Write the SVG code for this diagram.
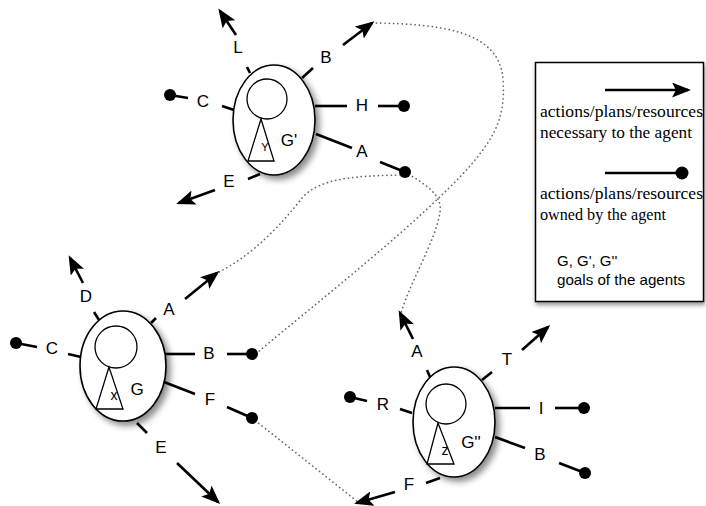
<svg xmlns="http://www.w3.org/2000/svg" width="706" height="506" viewBox="0 0 706 506">
  <style>
    .lbl { font-family: "Liberation Sans", Arial, sans-serif; font-size: 17px; fill: #000; text-anchor: middle; }
    .tiny { font-family: "Liberation Sans", Arial, sans-serif; fill: #000; text-anchor: middle; }
    .body { fill: #fff; stroke: #000; stroke-width: 1.6; }
    .head { fill: none; stroke: #000; stroke-width: 1.3; }
    .spoke { stroke: #000; stroke-width: 2.6; fill: none; }
    .need { stroke: #000; stroke-width: 2.6; fill: none; marker-end: url(#arrow); }
    .dot { fill: #000; }
    .link { fill: none; stroke: #666; stroke-width: 1.7; stroke-dasharray: 0.1 4.2; stroke-linecap: round; }
    .serif { font-family: "Liberation Serif", "Times New Roman", serif; font-size: 17px; fill: #000; }
    .sans { font-family: "Liberation Sans", Arial, sans-serif; font-size: 15px; fill: #000; }
  </style>
  <defs>
    <marker id="arrow" markerUnits="userSpaceOnUse" markerWidth="20" markerHeight="15" refX="16" refY="7.5" orient="auto">
      <path d="M0,0 L19,7.5 L0,15 L4,7.5 z" fill="#000"/>
    </marker>
    <filter id="shadow" x="-30%" y="-30%" width="170%" height="170%">
      <feDropShadow dx="4" dy="4" stdDeviation="3" flood-color="#000" flood-opacity="0.45"/>
    </filter>
    <filter id="boxshadow" x="-10%" y="-10%" width="120%" height="120%">
      <feDropShadow dx="1" dy="3" stdDeviation="2" flood-color="#000" flood-opacity="0.4"/>
    </filter>
  </defs>

  <rect width="706" height="506" fill="#fff"/>

  <!-- dotted dependency links between agents -->
  <g id="connectors">
    <path class="link" d="M372,23 C440,24 500,30 503,80 C506,120 492,140 470,166 C420,222 320,300 258,352"/>
    <path class="link" d="M405,172 C425,184 443,195 440,212 C436,240 410,282 401,313"/>
    <path class="link" d="M400,175 C360,176 320,177 302,198 C282,224 252,256 217,273"/>
    <path class="link" d="M252,418 L358,502"/>
  </g>

  <!-- agent with goal G' -->
  <g id="agent-g1">
    <ellipse class="body" cx="274" cy="120" rx="41" ry="55" filter="url(#shadow)"/>
    <circle class="head" cx="267" cy="99" r="20"/>
    <polygon class="head" points="261,119 248,161 274,161"/>
    <text class="tiny" x="265" y="151" font-size="11">Y</text>
    <text class="lbl" x="289" y="146">G'</text>
    <!-- L -->
    <line class="spoke" x1="247" y1="67" x2="250" y2="73"/>
    <text class="lbl" x="238" y="53">L</text>
    <line class="need" x1="236" y1="35" x2="220" y2="11"/>
    <!-- B -->
    <line class="spoke" x1="302" y1="78" x2="313" y2="68"/>
    <text class="lbl" x="326" y="63">B</text>
    <line class="need" x1="343" y1="45" x2="372" y2="23"/>
    <!-- C -->
    <line class="spoke" x1="222" y1="106" x2="234" y2="110"/>
    <text class="lbl" x="203" y="107">C</text>
    <line class="spoke" x1="188" y1="98" x2="170" y2="95"/>
    <circle class="dot" cx="170" cy="95" r="6"/>
    <!-- H -->
    <line class="spoke" x1="315" y1="106" x2="347" y2="106"/>
    <text class="lbl" x="362" y="111">H</text>
    <line class="spoke" x1="378" y1="106" x2="404" y2="106"/>
    <circle class="dot" cx="404" cy="106" r="6"/>
    <!-- A -->
    <line class="spoke" x1="316" y1="134" x2="352" y2="148"/>
    <text class="lbl" x="362" y="157">A</text>
    <line class="spoke" x1="380" y1="162" x2="405" y2="172"/>
    <circle class="dot" cx="405" cy="172" r="6"/>
    <!-- E -->
    <line class="spoke" x1="260" y1="174" x2="248" y2="179"/>
    <text class="lbl" x="229" y="187">E</text>
    <line class="need" x1="215" y1="190" x2="179" y2="203"/>
  </g>

  <!-- agent with goal G -->
  <g id="agent-g0">
    <ellipse class="body" cx="123" cy="366" rx="43" ry="55" filter="url(#shadow)"/>
    <circle class="head" cx="116" cy="347" r="21"/>
    <polygon class="head" points="109,367 96,409 123,409"/>
    <text class="tiny" x="114" y="400" font-size="14">x</text>
    <text class="lbl" x="137" y="395">G</text>
    <!-- D -->
    <line class="spoke" x1="94" y1="312" x2="99" y2="320"/>
    <text class="lbl" x="86" y="302">D</text>
    <line class="need" x1="83" y1="283" x2="70" y2="258"/>
    <!-- A -->
    <line class="spoke" x1="151" y1="323" x2="156" y2="318"/>
    <text class="lbl" x="169" y="315">A</text>
    <line class="need" x1="185" y1="299" x2="217" y2="273"/>
    <!-- C -->
    <line class="spoke" x1="68" y1="354" x2="81" y2="357"/>
    <text class="lbl" x="52" y="354">C</text>
    <line class="spoke" x1="37" y1="347" x2="16" y2="343"/>
    <circle class="dot" cx="16" cy="343" r="6"/>
    <!-- B -->
    <line class="spoke" x1="165" y1="354" x2="195" y2="354"/>
    <text class="lbl" x="209" y="359">B</text>
    <line class="spoke" x1="227" y1="354" x2="252" y2="354"/>
    <circle class="dot" cx="252" cy="354" r="6"/>
    <!-- F -->
    <line class="spoke" x1="164" y1="382" x2="195" y2="394"/>
    <text class="lbl" x="210" y="405">F</text>
    <line class="spoke" x1="227" y1="407" x2="252" y2="418"/>
    <circle class="dot" cx="252" cy="418" r="6"/>
    <!-- E -->
    <line class="spoke" x1="137" y1="423" x2="147" y2="433"/>
    <text class="lbl" x="161" y="453">E</text>
    <line class="need" x1="177" y1="463" x2="218" y2="502"/>
  </g>

  <!-- agent with goal G'' -->
  <g id="agent-g2">
    <ellipse class="body" cx="454" cy="422" rx="41" ry="55" filter="url(#shadow)"/>
    <circle class="head" cx="446" cy="404" r="20"/>
    <polygon class="head" points="438,423 427,464 454,464"/>
    <text class="tiny" x="445" y="455" font-size="14">z</text>
    <text class="lbl" x="471" y="448">G''</text>
    <!-- A -->
    <line class="spoke" x1="427" y1="370" x2="430" y2="377"/>
    <text class="lbl" x="417" y="357">A</text>
    <line class="need" x1="413" y1="339" x2="400" y2="313"/>
    <!-- T -->
    <line class="spoke" x1="482" y1="380" x2="492" y2="372"/>
    <text class="lbl" x="507" y="365">T</text>
    <line class="need" x1="522" y1="350" x2="548" y2="327"/>
    <!-- R -->
    <line class="spoke" x1="400" y1="409" x2="412" y2="413"/>
    <text class="lbl" x="383" y="410">R</text>
    <line class="spoke" x1="367" y1="401" x2="350" y2="397"/>
    <circle class="dot" cx="350" cy="397" r="6"/>
    <!-- I -->
    <line class="spoke" x1="495" y1="408" x2="530" y2="408"/>
    <text class="lbl" x="541" y="414">I</text>
    <line class="spoke" x1="555" y1="408" x2="584" y2="408"/>
    <circle class="dot" cx="584" cy="408" r="6"/>
    <!-- B -->
    <line class="spoke" x1="495" y1="437" x2="525" y2="448"/>
    <text class="lbl" x="540" y="460">B</text>
    <line class="spoke" x1="559" y1="463" x2="585" y2="473"/>
    <circle class="dot" cx="585" cy="473" r="6"/>
    <!-- F -->
    <line class="spoke" x1="440" y1="478" x2="426" y2="483"/>
    <text class="lbl" x="409" y="490">F</text>
    <line class="need" x1="395" y1="492" x2="357" y2="503"/>
  </g>

  <!-- key -->
  <g id="legend">
    <rect x="535.5" y="62.5" width="168" height="239" fill="#fff" stroke="#000" stroke-width="1.5" filter="url(#boxshadow)"/>
    <line class="need" x1="605" y1="90" x2="688" y2="90"/>
    <text class="serif" x="540" y="117" textLength="163" lengthAdjust="spacingAndGlyphs">actions/plans/resources</text>
    <text class="serif" x="540" y="138" textLength="152" lengthAdjust="spacingAndGlyphs">necessary to the agent</text>
    <line class="spoke" x1="605" y1="173" x2="682" y2="173"/>
    <circle class="dot" cx="682" cy="173" r="6.5"/>
    <text class="serif" x="540" y="199" textLength="163" lengthAdjust="spacingAndGlyphs">actions/plans/resources</text>
    <text class="serif" x="540" y="220" textLength="126" lengthAdjust="spacingAndGlyphs">owned by the agent</text>
    <text class="sans" x="557" y="266" font-size="14">G, G', G''</text>
    <text class="sans" x="557" y="285" textLength="128" lengthAdjust="spacingAndGlyphs">goals of the agents</text>
  </g>
</svg>
